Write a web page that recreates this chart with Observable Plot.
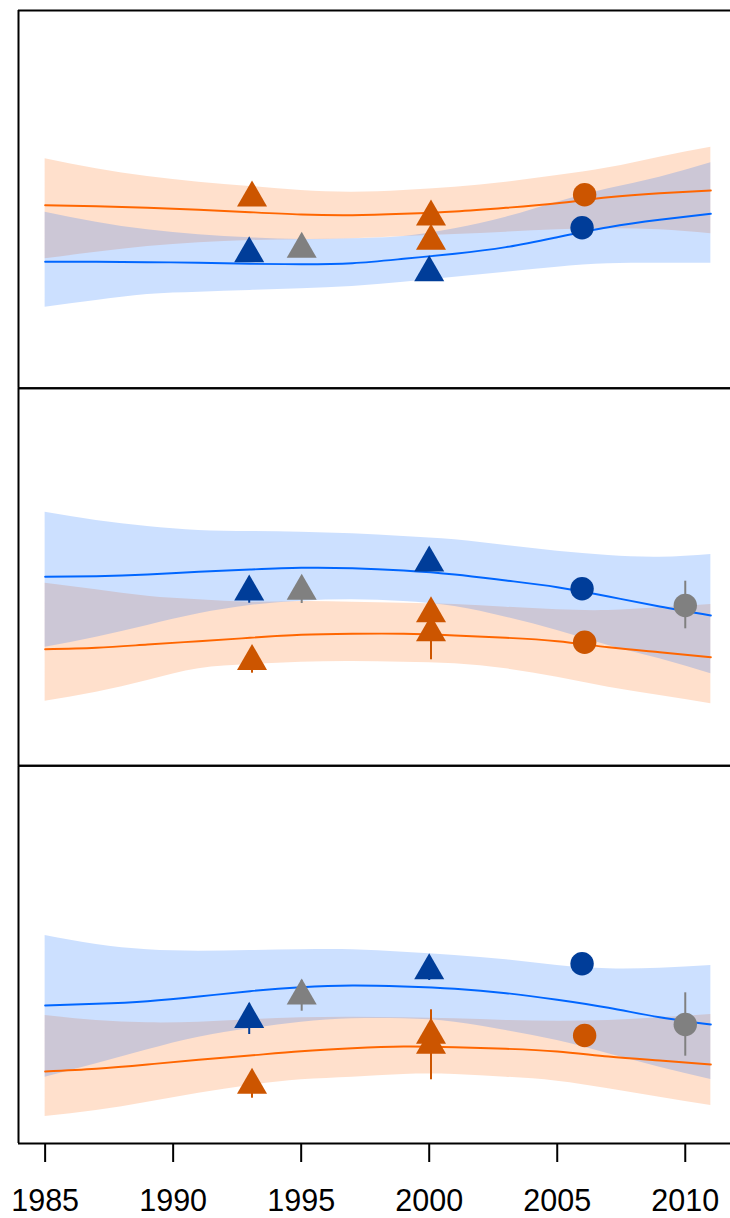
<!DOCTYPE html>
<html>
<head>
<meta charset="utf-8">
<script src="https://cdn.jsdelivr.net/npm/d3@7"></script>
<script src="https://cdn.jsdelivr.net/npm/@observablehq/plot@0.6"></script>
<style>
  html, body { margin: 0; padding: 0; background: white; overflow: hidden; }
  #chart { width: 730px; height: 1218px; overflow: hidden; }
</style>
</head>
<body>
<div id="chart"></div>
<script>
// ---- data (arbitrary panel units, 0 = panel bottom, 100 = panel top) ----
const bandYears = [1985,1987,1989,1991,1993,1995,1997,1999,2001,2003,2005,2007,2009,2011];
const panels = [1, 2, 3];
const xTicks = [1985, 1990, 1995, 2000, 2005, 2010];

// Panel 1
const p1OrangeUpper = [60.73,58.09,56.05,54.54,53.40,52.34,51.89,52.34,53.21,54.54,56.31,58.35,61.16,63.80];
const p1OrangeFit   = [48.45,48.18,47.76,47.23,46.59,45.98,45.80,46.17,46.78,47.76,48.98,50.57,51.62,52.34];
const p1OrangeLower = [34.25,36.00,37.51,38.49,39.10,39.29,39.55,40.16,40.69,41.30,41.93,42.20,41.93,40.87];
const p1BlueUpper   = [46.59,43.95,41.93,40.61,39.82,39.37,39.55,40.16,42.20,45.27,49.24,52.79,55.86,59.67];
const p1BlueFit     = [33.46,33.46,33.35,33.20,32.93,32.82,33.09,34.25,35.58,37.33,39.97,42.62,44.58,46.17];
const p1BlueLower   = [21.44,23.21,24.80,25.41,25.86,26.31,26.92,28.06,29.38,30.71,32.03,32.93,33.09,33.09];

// Panel 2
const p2OrangeUpper = [48.36,46.61,44.92,43.96,43.33,43.51,43.33,43.06,42.72,42.00,41.31,41.13,41.84,42.72];
const p2OrangeFit   = [30.88,31.25,32.13,33.00,33.90,34.69,34.96,34.96,34.51,33.90,33.00,31.41,30.09,28.76];
const p2OrangeLower = [17.11,19.50,22.59,25.69,26.83,27.44,27.62,27.44,27.02,25.69,23.47,20.82,18.62,16.42];
const p2BlueUpper   = [67.16,64.96,63.37,62.31,62.05,61.86,61.44,60.72,59.85,58.34,56.83,55.69,55.24,55.96];
const p2BlueFit     = [50.05,50.21,50.66,51.38,51.98,52.43,52.33,51.72,50.66,49.07,47.30,44.84,42.19,39.80];
const p2BlueLower   = [31.41,34.06,37.16,40.25,42.45,43.59,43.96,43.51,42.19,39.36,35.83,31.86,28.34,24.37];

// Panel 3
const p3OrangeUpper = [33.89,32.57,31.96,32.12,32.75,33.28,33.44,33.28,33.02,32.57,32.38,32.57,33.28,34.16];
const p3OrangeFit   = [19.06,19.78,20.92,22.16,23.30,24.44,25.23,25.68,25.50,25.07,24.36,23.04,21.98,20.92];
const p3OrangeLower = [7.15,8.74,10.94,13.32,15.36,16.87,17.56,18.27,18.27,17.56,16.50,14.48,12.26,10.06];
const p3BlueUpper   = [55.07,52.69,51.29,50.92,51.10,51.29,51.29,50.65,49.78,48.64,47.13,46.26,46.42,47.13];
const p3BlueFit     = [36.54,36.99,37.68,38.92,40.33,41.39,41.84,41.57,40.96,39.80,38.05,35.93,33.44,31.51];
const p3BlueLower   = [17.56,21.10,24.81,28.15,30.37,32.12,33.02,33.02,32.12,29.92,27.27,23.75,20.20,16.95];

// Observations
const obsPanel = [1,1,1,1,1,1,1,1, 2,2,2,2,2,2,2,2,2, 3,3,3,3,3,3,3,3,3];
const obsYear  = [1993.08,1992.97,1995.02,2000.07,2000.07,2000,2006.07,2005.97,
                  1992.97,1995.02,1993.08,2000,2000.07,2000.07,2005.97,2006.07,2010,
                  1992.97,1995.02,1993.08,2000,2000.07,2000.07,2005.97,2006.07,2010];
const obsValue = [50.41,35.66,36.80,45.38,38.92,30.63,51.20,42.46,
                  46.08,46.24,27.70,53.76,40.33,35.30,46.87,32.74,42.45,
                  32.91,39.11,15.44,45.81,28.68,26.03,47.58,28.60,31.51];
const obsLow   = [null,null,null,null,null,null,null,null,
                  43.06,42.98,24.53,null,null,28.08,null,null,36.28,
                  28.86,35.03,11.99,43.16,null,16.87,null,null,23.12];
const obsHigh  = [null,null,null,null,null,null,null,null,
                  49.10,49.50,30.87,null,null,42.53,null,null,48.89,
                  36.96,43.19,18.89,48.46,null,35.40,null,null,39.90];
const obsGroup = ["orange","blue","gray","orange","orange","blue","orange","blue",
                  "blue","gray","orange","blue","orange","orange","blue","orange","gray",
                  "blue","gray","orange","blue","orange","orange","blue","orange","gray"];
const obsShape = ["triangle","triangle","triangle","triangle","triangle","triangle","circle","circle",
                  "triangle","triangle","triangle","triangle","triangle","triangle","circle","circle","circle",
                  "triangle","triangle","triangle","triangle","triangle","triangle","circle","circle","circle"];

// ---- build tables ----
const bandSets = {
  1: [p1OrangeUpper, p1OrangeFit, p1OrangeLower, p1BlueUpper, p1BlueFit, p1BlueLower],
  2: [p2OrangeUpper, p2OrangeFit, p2OrangeLower, p2BlueUpper, p2BlueFit, p2BlueLower],
  3: [p3OrangeUpper, p3OrangeFit, p3OrangeLower, p3BlueUpper, p3BlueFit, p3BlueLower]
};
const bands = [];
for (const p of panels) {
  const [oU, oF, oL, bU, bF, bL] = bandSets[p];
  bandYears.forEach((yr, i) => bands.push({panel: p, year: yr, oU: oU[i], oF: oF[i], oL: oL[i], bU: bU[i], bF: bF[i], bL: bL[i]}));
}
const obs = obsPanel.map((p, i) => ({panel: p, year: obsYear[i], value: obsValue[i], low: obsLow[i], high: obsHigh[i], group: obsGroup[i], shape: obsShape[i]}));
const panelEdges = panels.flatMap(p => [{panel: p, v: 0}, {panel: p, v: 100}]);

const lineColor = {orange: "#FF6600", blue: "#0066FF"};
const pointColor = {orange: "#CC5500", blue: "#003D99", gray: "#808080"};
const xDomain = [1983.96, 2012.04];

const chart = Plot.plot({
  width: 730,
  height: 1218,
  marginLeft: 18,
  marginRight: -7,
  marginTop: 10,
  marginBottom: 75,
  style: {fontFamily: "'Liberation Sans', Arial, Helvetica, sans-serif", background: "white", color: "black"},
  x: {domain: xDomain, axis: null},
  y: {domain: [0, 100], axis: null},
  fy: {domain: panels, padding: 0, axis: null, round: false},
  marks: [
    Plot.areaY(bands, {fy: "panel", x: "year", y1: "oL", y2: "oU", fill: lineColor.orange, fillOpacity: 0.2, curve: "natural"}),
    Plot.areaY(bands, {fy: "panel", x: "year", y1: "bL", y2: "bU", fill: lineColor.blue, fillOpacity: 0.2, curve: "natural"}),
    Plot.lineY(bands, {fy: "panel", x: "year", y: "oF", stroke: lineColor.orange, strokeWidth: 1.9, curve: "natural"}),
    Plot.lineY(bands, {fy: "panel", x: "year", y: "bF", stroke: lineColor.blue, strokeWidth: 1.9, curve: "natural"}),
    Plot.ruleX(obs.filter(d => d.low != null), {fy: "panel", x: "year", y1: "low", y2: "high", stroke: d => pointColor[d.group], strokeWidth: 2}),
    Plot.dot(obs.filter(d => d.shape === "triangle"), {fy: "panel", x: "year", y: "value", symbol: "triangle", r: 11.15, fill: d => pointColor[d.group], stroke: "none"}),
    Plot.dot(obs.filter(d => d.shape === "circle"), {fy: "panel", x: "year", y: "value", symbol: "circle", r: 11.7, fill: d => pointColor[d.group], stroke: "none"}),
    Plot.ruleY(panelEdges, {fy: "panel", y: "v", stroke: "black", strokeWidth: 2}),
    Plot.ruleX([xDomain[0]], {stroke: "black", strokeWidth: 2}),
    Plot.axisX({ticks: xTicks, tickFormat: d => String(d), tickSize: 19, tickPadding: 27, strokeWidth: 2, fontSize: 30.5, label: null, facetAnchor: "bottom"})
  ]
});
document.getElementById("chart").appendChild(chart);
</script>
</body>
</html>
